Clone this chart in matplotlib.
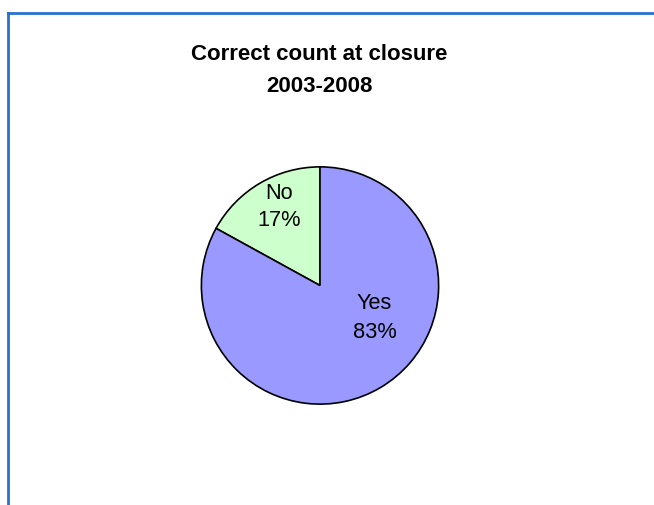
import matplotlib
matplotlib.use("Agg")
import matplotlib.pyplot as plt
from matplotlib.lines import Line2D
import numpy as np

title_lines = ["Correct count at closure", "2003-2008"]
categories = ["No", "Yes"]
values = [17, 83]
colors = ["#CCFFCC", "#9999FF"]

plt.rcParams['font.family'] = ['Liberation Sans', 'DejaVu Sans']

W, H = 654, 506
fig = plt.figure(figsize=(W / 100, H / 100), dpi=100)
fig.patch.set_facecolor("white")

# border (left and top only visible)
bc = "#2870D0"
fig.add_artist(Line2D([7.5 / W, 7.5 / W], [0, 1 - 13.5 / H], transform=fig.transFigure, color=bc, lw=2.0))
fig.add_artist(Line2D([7.5 / W, 1], [1 - 13.5 / H, 1 - 13.5 / H], transform=fig.transFigure, color=bc, lw=2.0))

# title
fig.text(319 / W, 1 - 54 / H, title_lines[0], ha="center", va="center", fontsize=16, fontweight="bold")
fig.text(319 / W, 1 - 86 / H, title_lines[1], ha="center", va="center", fontsize=16, fontweight="bold")

cx, cy, r = 320, 286.5, 121
ax = fig.add_axes([(cx - r) / W, (H - cy - r) / H, 2 * r / W, 2 * r / H])
wedges, _ = ax.pie(values, colors=colors, startangle=90, counterclock=True,
                   wedgeprops=dict(edgecolor="black", linewidth=1.2), radius=1.0)
ax.set_xlim(-1.02, 1.02)
ax.set_ylim(-1.02, 1.02)
ax.set_aspect("equal")
ax.axis("off")

# label placement (angle offset in degrees, radial fraction, line spacing)
label_place = {"No": (-3.5, 0.75, 1.35), "Yes": (29.4, 0.53, 1.45)}
for w, cat, v in zip(wedges, categories, values):
    mid = (w.theta1 + w.theta2) / 2
    da, rf, ls = label_place[cat]
    a = np.deg2rad(mid + da)
    ax.text(rf * np.cos(a), rf * np.sin(a), f"{cat}\n{v}%", ha="center", va="center",
            fontsize=15.7, linespacing=ls)

fig.savefig("out.png", dpi=100, facecolor="white")
